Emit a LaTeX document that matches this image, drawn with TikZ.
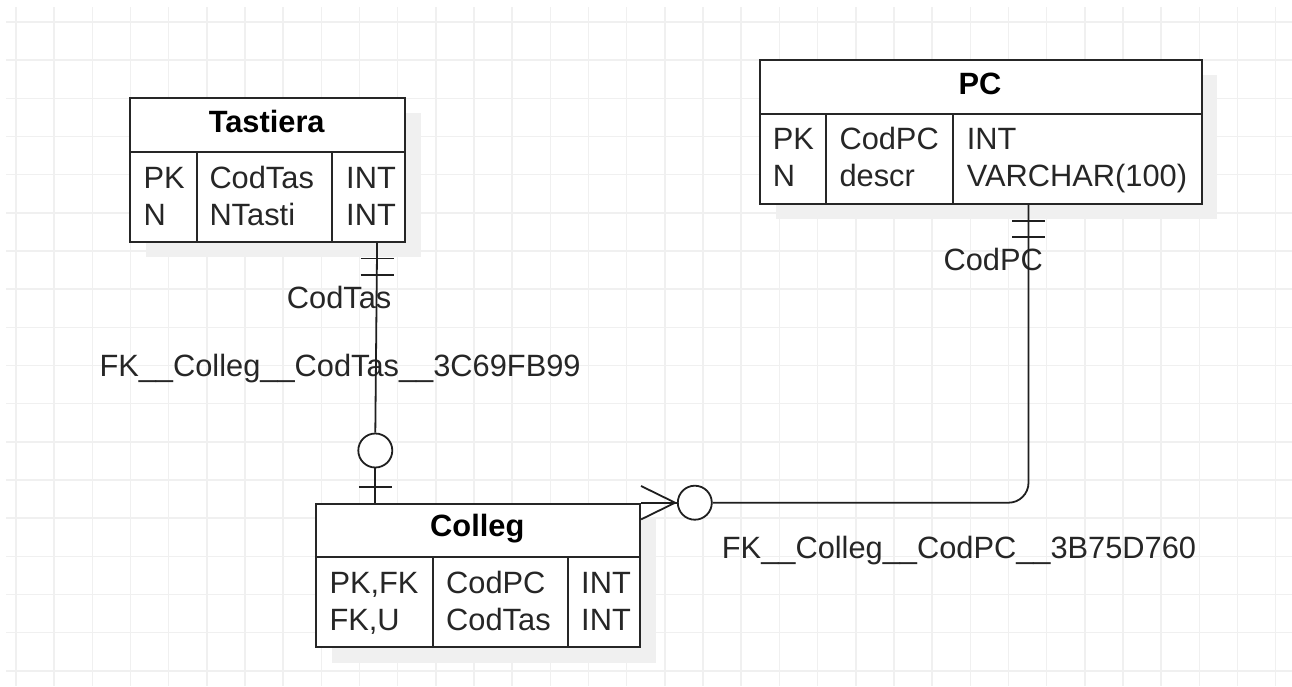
\documentclass[tikz,border=0pt]{standalone}
\usepackage{fontspec}
\setmainfont{Liberation Sans}
\usetikzlibrary{calc}
\begin{document}
\begin{tikzpicture}[x=1pt,y=-1pt,
  gridline/.style={draw=black!6, line width=1.5pt},
  shadowbox/.style={fill=black!6, draw=none},
  tablebox/.style={draw=black!85, line width=1.8pt, fill=white, rectangle, inner sep=0pt, anchor=north west},
  cell/.style={draw=black!85, line width=1.8pt},
  txt/.style={font=\fontsize{30.8}{36}\selectfont, text=black!85, anchor=base west, inner sep=0pt},
  ttl/.style={font=\fontsize{30.8}{36}\selectfont\bfseries, text=black, anchor=base, inner sep=0pt},
  conn/.style={draw=black!88, line width=1.8pt},
  ring/.style={circle, draw=black!88, line width=1.8pt, fill=white, minimum size=34pt, inner sep=0pt},
]
\useasboundingbox (0,0) rectangle (1292,686);
\fill[white] (0,0) rectangle (1292,686);
% grid
\foreach \i in {0,...,33} \draw[gridline] ({16+38.17*\i},7) -- ({16+38.17*\i},686);
\foreach \j in {0,...,17} \draw[gridline] (6,{22+38.17*\j}) -- (1292,{22+38.17*\j});

% ---------- Tastiera ----------
\fill[shadowbox] (146.3,113.3) rectangle (421,256.7);
\node[tablebox, minimum width=274.7pt, minimum height=143.4pt] (tas) at (129.3,97.3) {};
\draw[cell] (129.3,152) -- (404,152);
\draw[cell] (197.3,152) -- (197.3,240.7);
\draw[cell] (332,152) -- (332,240.7);
\node[ttl] (tasT) at (266.7,132.7) {Tastiera};
\node[txt] (tas1) at (143.3,188.3) {PK};
\node[txt] (tas2) at (143.3,225) {N};
\node[txt] (tas3) at (209.3,188.3) {CodTas};
\node[txt] (tas4) at (209.3,225) {NTasti};
\node[txt] (tas5) at (346,188.3) {INT};
\node[txt] (tas6) at (346,225) {INT};

% ---------- PC ----------
\fill[shadowbox] (776,75.3) rectangle (1216.7,218.7);
\node[tablebox, minimum width=441.4pt, minimum height=143.4pt] (pc) at (759.3,59.3) {};
\draw[cell] (759.3,114) -- (1200.7,114);
\draw[cell] (826,114) -- (826,202.7);
\draw[cell] (953.3,114) -- (953.3,202.7);
\node[ttl] (pcT) at (980,94.3) {PC};
\node[txt] (pc1) at (772.7,149.3) {PK};
\node[txt] (pc2) at (772.7,186) {N};
\node[txt] (pc3) at (839.3,149.3) {CodPC};
\node[txt] (pc4) at (839.3,186) {descr};
\node[txt] (pc5) at (966.7,149.3) {INT};
\node[txt] (pc6) at (966.7,186) {VARCHAR(100)};

% ---------- Colleg ----------
\fill[shadowbox] (332.3,518.7) rectangle (656,662.7);
\node[tablebox, minimum width=324pt, minimum height=143.3pt] (col) at (315.3,502.7) {};
\draw[cell] (315.3,557.3) -- (639.3,557.3);
\draw[cell] (432.7,557.3) -- (432.7,646);
\draw[cell] (568,557.3) -- (568,646);
\node[ttl] (colT) at (477.3,536.7) {Colleg};
\node[txt] (col1) at (329.3,593.3) {PK,FK};
\node[txt] (col2) at (329.3,630) {FK,U};
\node[txt] (col3) at (446,593.3) {CodPC};
\node[txt] (col4) at (446,630) {CodTas};
\node[txt] (col5) at (581,593.3) {INT};
\node[txt] (col6) at (581,630) {INT};

% ---------- labels ----------
\node[txt] (l1) at (286.7,308.3) {CodTas};
\node[txt] (l2) at (99.3,376.7) {FK\_\_Colleg\_\_CodTas\_\_3C69FB99};
\node[txt] (l3) at (943.3,270) {CodPC};
\node[txt] (l4) at (721.7,558.3) {FK\_\_Colleg\_\_CodPC\_\_3B75D760};

% ---------- connector Tastiera -> Colleg ----------
\coordinate (a1) at ($(tas.south east)+(-28.7,0)$);
\coordinate (a2) at ($(col.north west)+(60,0)$);
\node[ring] (o1) at ($(a2)+(0,-52.2)$) {};
\draw[conn] (a1) -- (o1.north);
\draw[conn] (o1.south) -- (a2);
\draw[conn] ($(a1)+(-16.5,16)$) -- ++(33,0);
\draw[conn] ($(a1)+(-16.5,32.6)$) -- ++(33,0);
\draw[conn] ($(a2)+(-16.5,-16)$) -- ++(33,0);

% ---------- connector PC -> Colleg ----------
\coordinate (b1) at ($(pc.south east)+(-174,0)$);
\node[ring] (o2) at ($(col.north east)+(53.7,0)$) {};
\draw[conn, rounded corners=20pt] (o2.east) -| (b1);
\draw[conn] (col.north east) -- (o2.west);
\draw[conn] ($(col.north east)+(0,-16.7)$) -- ($(col.north east)+(34,0)$) -- ($(col.north east)+(0,16.7)$);
\draw[conn] ($(b1)+(-16.4,16.3)$) -- ++(32.8,0);
\draw[conn] ($(b1)+(-16.4,32.3)$) -- ++(32.8,0);
\end{tikzpicture}
\end{document}
